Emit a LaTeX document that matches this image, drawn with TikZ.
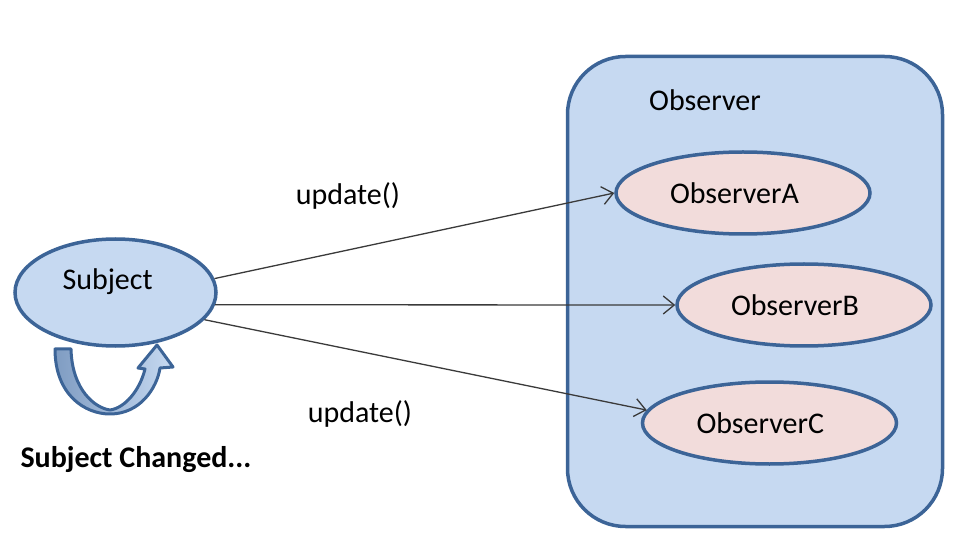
\documentclass[tikz,border=0pt]{standalone}
\usepackage{fontspec}
\setmainfont{Carlito}
\usetikzlibrary{shapes.geometric,arrows.meta}

\definecolor{boxblue}{HTML}{C6D9F1}
\definecolor{edgeblue}{HTML}{3C6497}
\definecolor{obspink}{HTML}{F2DCDB}
\definecolor{linegray}{HTML}{3A3A3A}
\definecolor{bandblue}{HTML}{7F9CC2}

\tikzset{
  observer/.style={ellipse, draw=edgeblue, fill=obspink, line width=3.5pt,
    minimum width=254pt, minimum height=82pt, inner sep=0pt,
    text width=146pt, align=left},
  msg/.style={draw=linegray, line width=1.3pt,
    -{Straight Barb[length=11pt,width=18pt]}}
}

\begin{document}
\begin{tikzpicture}[x=1pt,y=-1pt,font=\fontsize{30}{36}\selectfont]
\useasboundingbox (0,0) rectangle (956,545);

\node (group) [draw=edgeblue, fill=boxblue, line width=3.5pt, rounded corners=58pt,
  minimum width=375pt, minimum height=470pt] at (755,291.5) {};
\node (grouplabel) at (705,100) {Observer};

\node (obsA) [observer] at (743,193) {ObserverA};
\node (obsB) [observer] at (804,305) {ObserverB};
\node (obsC) [observer] at (769.5,423) {ObserverC};

\node (subj) [ellipse, draw=edgeblue, fill=boxblue, line width=3.5pt,
  minimum width=201pt, minimum height=107pt, inner sep=0pt,
  text width=106pt, align=left, text depth=26pt] at (115.5,292.5) {Subject};

\node (upd1) at (348,196) {update()};
\node (upd2) at (360,414) {update()};
\node (changed) at (136,460) {\bfseries Subject Changed...};

\draw[msg] (subj.8) -- (obsA.west);
\draw[msg] (subj.-7) -- (obsB.west);
\draw[msg] (subj.-17) -- (obsC.174);

% turn-around arrow below the subject
\draw[draw=edgeblue, line width=3pt, line join=round, left color=bandblue, right color=boxblue]
  (55,349) .. controls (55,395) and (85,414) .. (110,414)
  .. controls (140,414) and (157,388) .. (160,368)
  -- (173,367) -- (157,345) -- (138,368) -- (145,369)
  .. controls (140,390) and (125,408) .. (110,410)
  .. controls (95,408) and (72,390) .. (71,349) -- cycle;

\end{tikzpicture}
\end{document}
